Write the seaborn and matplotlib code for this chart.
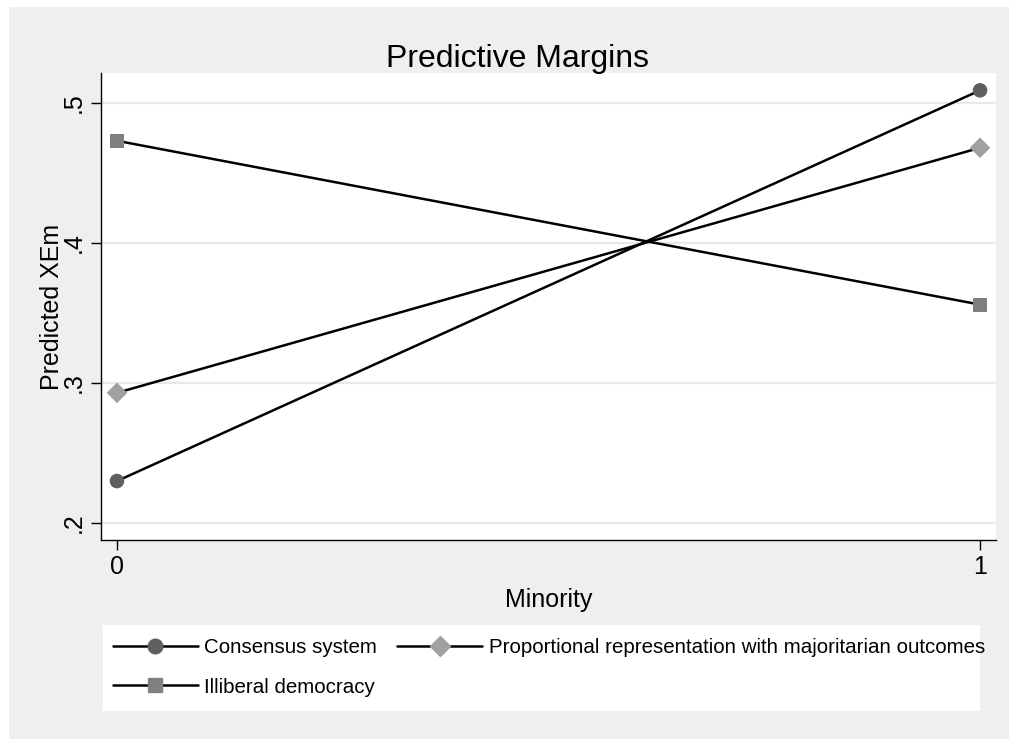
import matplotlib
matplotlib.use("Agg")
import matplotlib.pyplot as plt
import seaborn as sns
import pandas as pd
from matplotlib.lines import Line2D
from matplotlib.patches import Rectangle

# values
minority = [0, 1]
consensus = [0.230, 0.509]
proportional = [0.293, 0.468]
illiberal = [0.473, 0.356]
series_names = [
    "Consensus system",
    "Proportional representation with majoritarian outcomes",
    "Illiberal democracy",
]
yticks = [0.2, 0.3, 0.4, 0.5]
ytick_labels = [".2", ".3", ".4", ".5"]
xticks = [0, 1]
xtick_labels = ["0", "1"]

markers = {series_names[0]: "o", series_names[1]: "D", series_names[2]: "s"}
marker_colors = {series_names[0]: "#5f5f5f", series_names[1]: "#a0a0a0", series_names[2]: "#808080"}
marker_sizes = {series_names[0]: 10.5, series_names[1]: 10.5, series_names[2]: 10}

df = pd.DataFrame({
    "Minority": minority * 3,
    "XEm": consensus + proportional + illiberal,
    "series": [series_names[0]] * 2 + [series_names[1]] * 2 + [series_names[2]] * 2,
})

sns.set_style("white")
plt.rcParams["font.family"] = ["Liberation Sans", "DejaVu Sans"]
plt.rcParams["text.color"] = "black"
plt.rcParams["axes.labelcolor"] = "black"
plt.rcParams["xtick.color"] = "black"
plt.rcParams["ytick.color"] = "black"

fig = plt.figure(figsize=(10.09, 7.39), dpi=100, facecolor="#efefef")
# thin white strips at top and left, as in the export
fig.patches.append(Rectangle((0, 0), 9 / 1009, 1, transform=fig.transFigure,
                             facecolor="white", edgecolor="none", zorder=-1))
fig.patches.append(Rectangle((0, 1 - 7 / 739), 1, 7 / 739, transform=fig.transFigure,
                             facecolor="white", edgecolor="none", zorder=-1))
ax = fig.add_axes([101 / 1009, 1 - 540 / 739, 895 / 1009, 467 / 739])
ax.set_facecolor("white")

# grid lines
for v in yticks:
    ax.axhline(v, color="#e8e8e8", lw=1.6, zorder=0)

# lines in black, markers drawn on top in grey
sns.lineplot(data=df, x="Minority", y="XEm", hue="series",
             palette={s: "black" for s in series_names}, lw=1.8,
             legend=False, ax=ax, zorder=2)
for s in series_names:
    sub = df[df["series"] == s]
    sns.scatterplot(data=sub, x="Minority", y="XEm", marker=markers[s],
                    color=marker_colors[s], s=marker_sizes[s] ** 2,
                    edgecolor="none", legend=False, ax=ax, zorder=3)

ax.set_xlim(-0.0185, 1.0185)
ax.set_ylim(0.1879, 0.5214)
ax.set_xticks(xticks)
ax.set_xticklabels(xtick_labels, fontsize=18)
ax.set_yticks(yticks)
ax.set_yticklabels(ytick_labels, fontsize=18, rotation=90, va="center")
ax.tick_params(axis="both", direction="out", length=7, width=1, color="black",
               pad=4, bottom=True, left=True)
for side in ["top", "right"]:
    ax.spines[side].set_visible(False)
for side in ["left", "bottom"]:
    ax.spines[side].set_color("black")
    ax.spines[side].set_linewidth(1)

ax.set_xlabel("Minority", fontsize=18, labelpad=6)
ax.set_ylabel("Predicted XEm", fontsize=18, va="center")
ax.yaxis.set_label_coords(-0.055, 0.5)

fig.text(517 / 1009, 1 - 59 / 739, "Predictive Margins", fontsize=23,
         ha="center", va="center")

# legend box
fig.patches.append(Rectangle((103 / 1009, 1 - 711 / 739), 877 / 1009, 86 / 739,
                             transform=fig.transFigure, facecolor="white",
                             edgecolor="none", zorder=0))
handles = {
    s: Line2D([0], [0], color="black", lw=1.8, marker=markers[s],
              markerfacecolor=marker_colors[s], markeredgecolor=marker_colors[s],
              markersize=marker_sizes[s])
    for s in series_names
}
order = [series_names[0], series_names[2], series_names[1]]
fig.legend([handles[s] for s in order], order, ncol=2, loc="upper left",
           bbox_to_anchor=(113 / 1009, 1 - 638 / 739), frameon=False,
           fontsize=14.8, handlelength=4.13, handletextpad=0.3, columnspacing=1.0,
           labelspacing=1.0, borderpad=0, borderaxespad=0)

fig.savefig("out.png", dpi=100, facecolor=fig.get_facecolor())
